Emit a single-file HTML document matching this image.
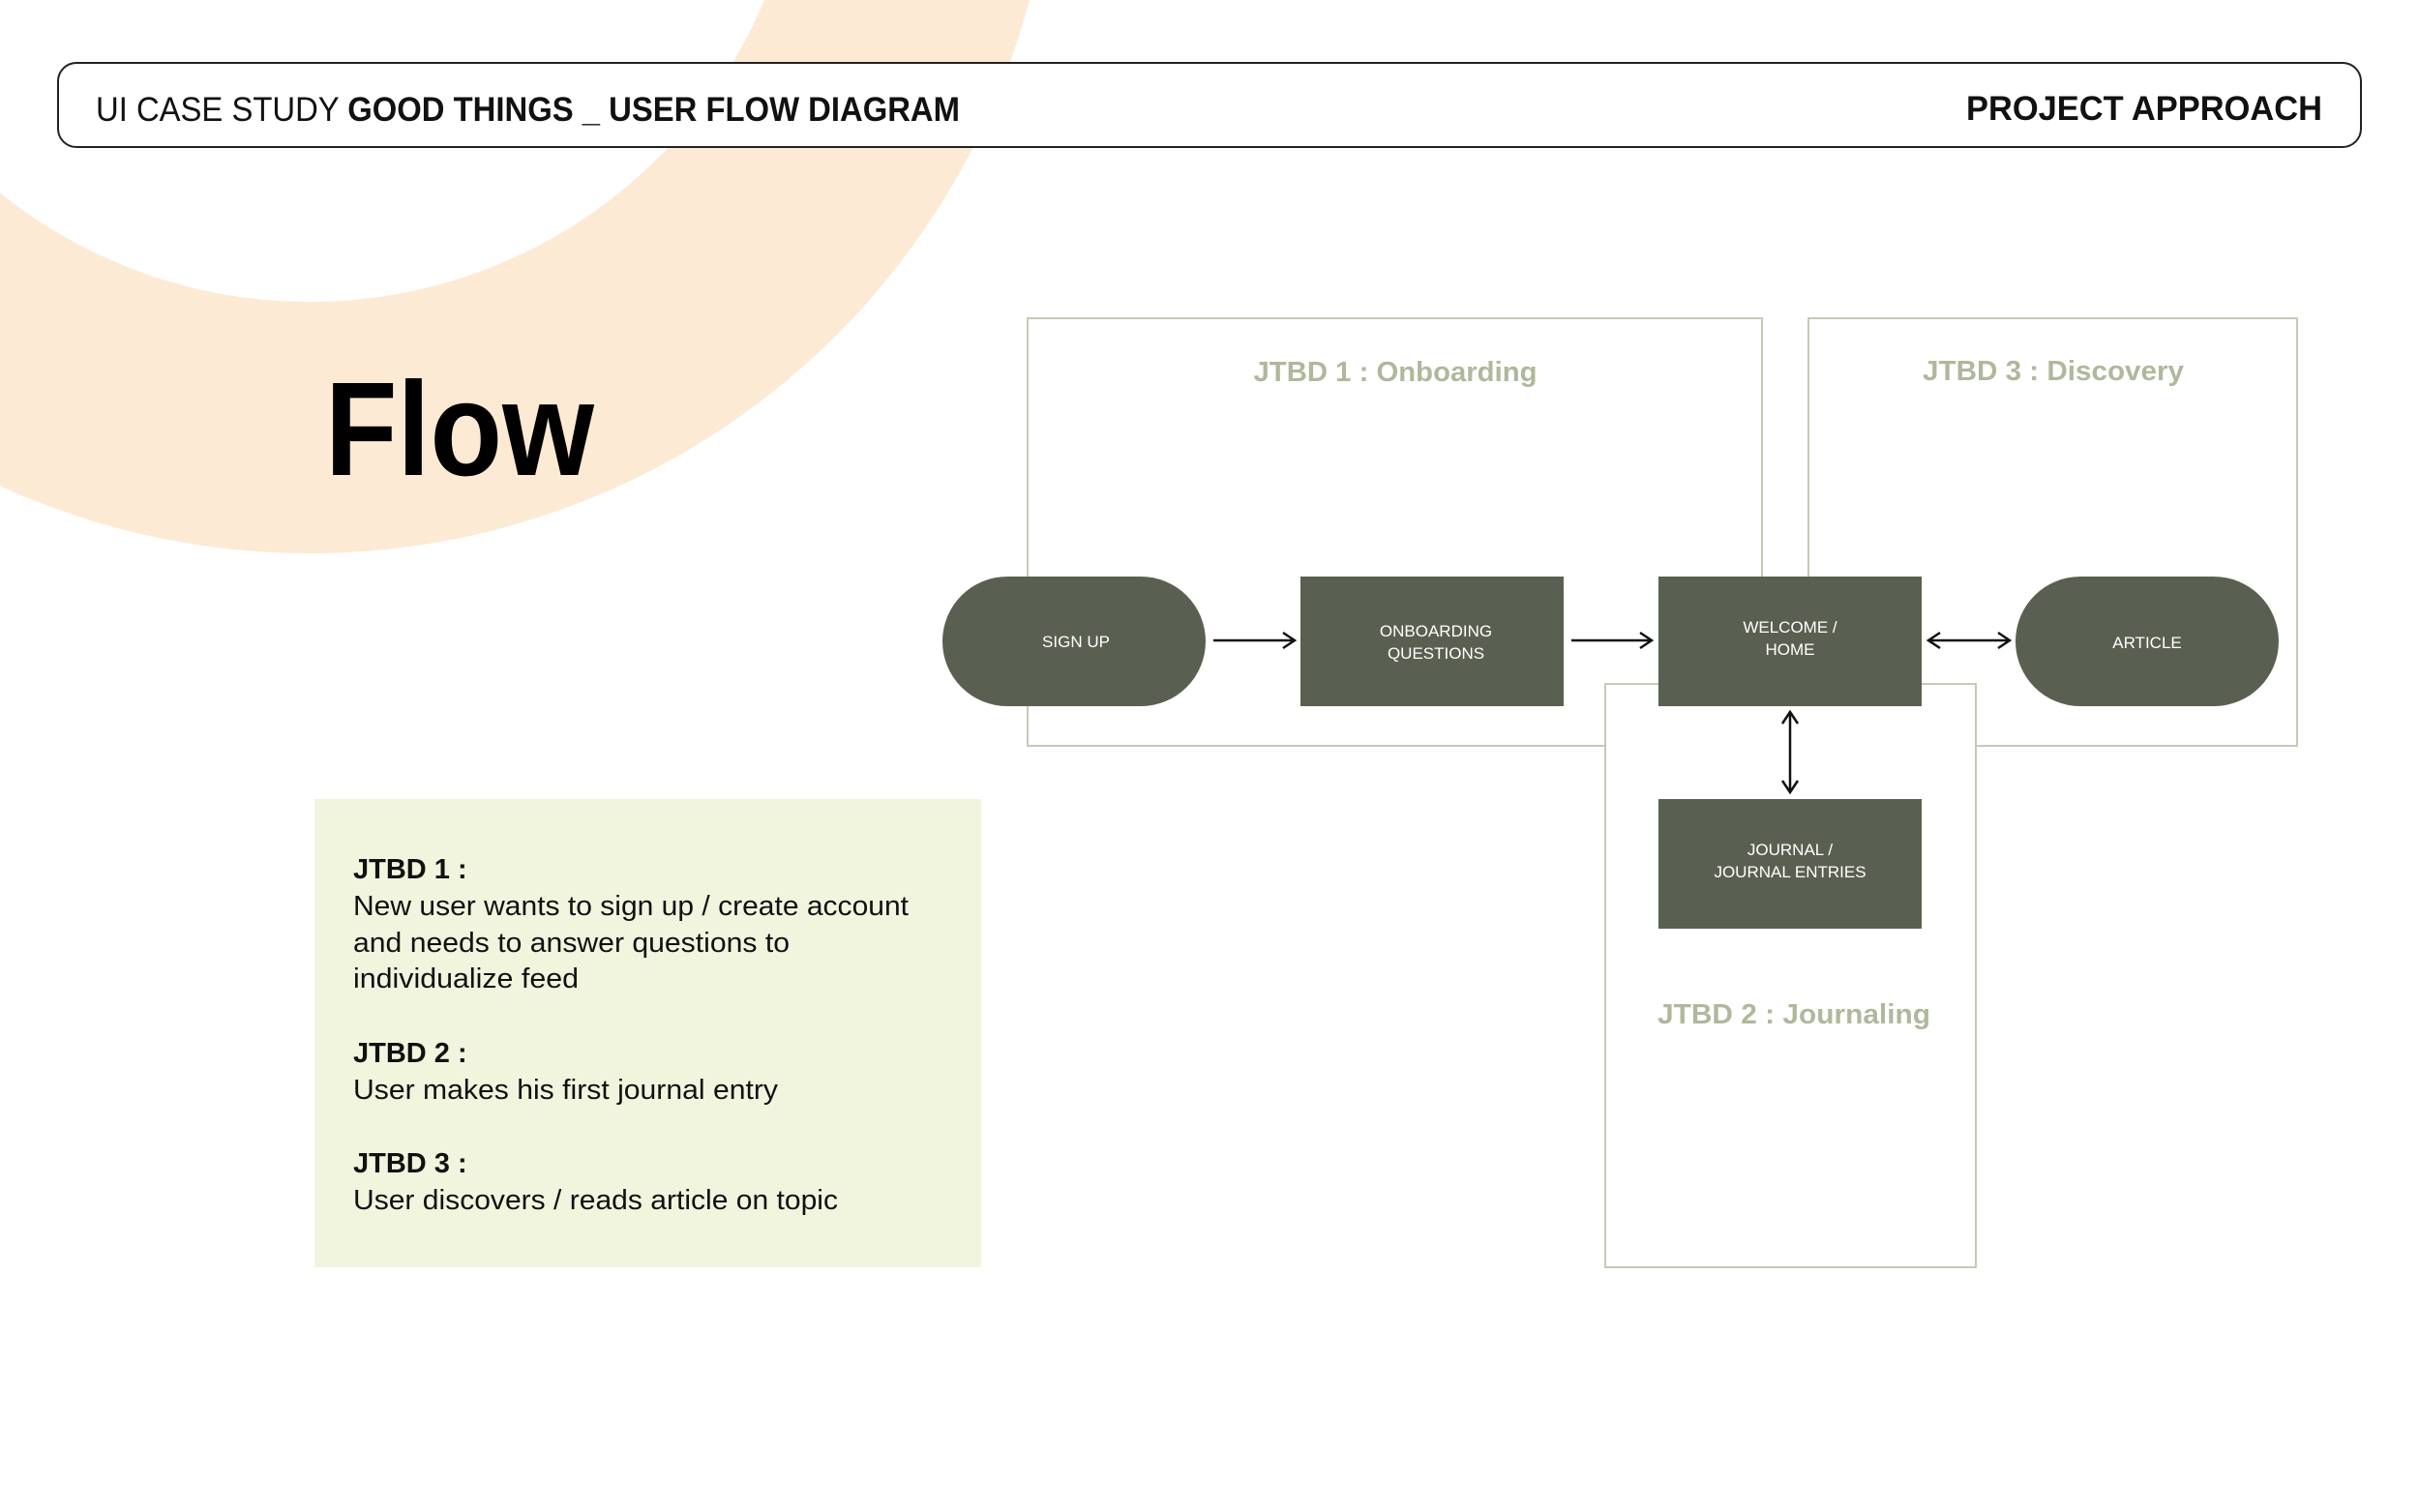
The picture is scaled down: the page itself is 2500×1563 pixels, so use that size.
<!DOCTYPE html>
<html><head><meta charset="utf-8"><style>
html,body{margin:0;padding:0;background:#fff;}
svg{display:block;font-family:"Liberation Sans",sans-serif;}
</style></head><body>
<svg width="2500" height="1563" viewBox="0 0 2500 1563" xmlns="http://www.w3.org/2000/svg">
<defs>
<marker id="ah" markerWidth="20" markerHeight="20" refX="16" refY="10" orient="auto-start-reverse" markerUnits="userSpaceOnUse">
<path d="M4,2 L16,10 L4,18" fill="none" stroke="#111" stroke-width="2.5"/>
</marker>
</defs>
<rect width="2500" height="1563" fill="#fff"/>
<circle cx="320" cy="-198" r="640" fill="none" stroke="#fdead5" stroke-width="260"/>
<rect x="60" y="65" width="2380" height="87" rx="19" fill="#fff" stroke="#222" stroke-width="2"/>
<text x="99" y="125" font-size="35" fill="#111" textLength="893" lengthAdjust="spacingAndGlyphs">UI CASE STUDY <tspan font-weight="bold">GOOD THINGS _ USER FLOW DIAGRAM</tspan></text>
<text x="2400" y="124" font-size="35" font-weight="bold" fill="#111" text-anchor="end" textLength="368" lengthAdjust="spacingAndGlyphs">PROJECT APPROACH</text>
<text x="336" y="491" font-size="138" font-weight="bold" fill="#000" textLength="278" lengthAdjust="spacingAndGlyphs">Flow</text>

<g fill="#fff" stroke="#c6cab6" stroke-width="2">
<rect x="1062" y="329" width="759" height="442"/>
<rect x="1869" y="329" width="505" height="442"/>
<rect x="1659" y="707" width="383" height="603"/>
</g>
<g font-size="29" font-weight="bold" fill="#b0b89c" text-anchor="middle">
<text x="1442" y="394" textLength="293" lengthAdjust="spacingAndGlyphs">JTBD 1 :  Onboarding</text>
<text x="2122" y="393" textLength="270" lengthAdjust="spacingAndGlyphs">JTBD 3 :  Discovery</text>
<text x="1854" y="1058" textLength="282" lengthAdjust="spacingAndGlyphs">JTBD 2 :  Journaling</text>
</g>

<g fill="#5a6051">
<rect x="974" y="596" width="272" height="134" rx="67"/>
<rect x="1344" y="596" width="272" height="134"/>
<rect x="1714" y="596" width="272" height="134"/>
<rect x="2083" y="596" width="272" height="134" rx="67"/>
<rect x="1714" y="826" width="272" height="134"/>
</g>
<g font-size="17" fill="#fff" text-anchor="middle">
<text x="1112" y="669">SIGN UP</text>
<text x="1484" y="658">ONBOARDING</text>
<text x="1484" y="681">QUESTIONS</text>
<text x="1850" y="654">WELCOME /</text>
<text x="1850" y="677">HOME</text>
<text x="2219" y="670">ARTICLE</text>
<text x="1850" y="884">JOURNAL /</text>
<text x="1850" y="907">JOURNAL ENTRIES</text>
</g>

<g stroke="#111" stroke-width="2.5" fill="none">
<line x1="1254" y1="662" x2="1338" y2="662" marker-end="url(#ah)"/>
<line x1="1624" y1="662" x2="1707" y2="662" marker-end="url(#ah)"/>
<line x1="1993" y1="662" x2="2077" y2="662" marker-start="url(#ah)" marker-end="url(#ah)"/>
<line x1="1850" y1="736" x2="1850" y2="819" marker-start="url(#ah)" marker-end="url(#ah)"/>
</g>

<rect x="325" y="826" width="689" height="484" fill="#f1f5de"/>
<g font-size="29" fill="#111">
<text x="365" y="908" font-weight="bold">JTBD 1 :</text>
<text x="365" y="946" textLength="574" lengthAdjust="spacingAndGlyphs">New user wants to sign up / create account</text>
<text x="365" y="984" textLength="451" lengthAdjust="spacingAndGlyphs">and needs to answer questions to</text>
<text x="365" y="1021" textLength="233" lengthAdjust="spacingAndGlyphs">individualize feed</text>
<text x="365" y="1098" font-weight="bold">JTBD 2 :</text>
<text x="365" y="1136" textLength="439" lengthAdjust="spacingAndGlyphs">User makes his first journal entry</text>
<text x="365" y="1212" font-weight="bold">JTBD 3 :</text>
<text x="365" y="1250" textLength="501" lengthAdjust="spacingAndGlyphs">User discovers / reads article on topic</text>
</g>
</svg>
</body></html>
